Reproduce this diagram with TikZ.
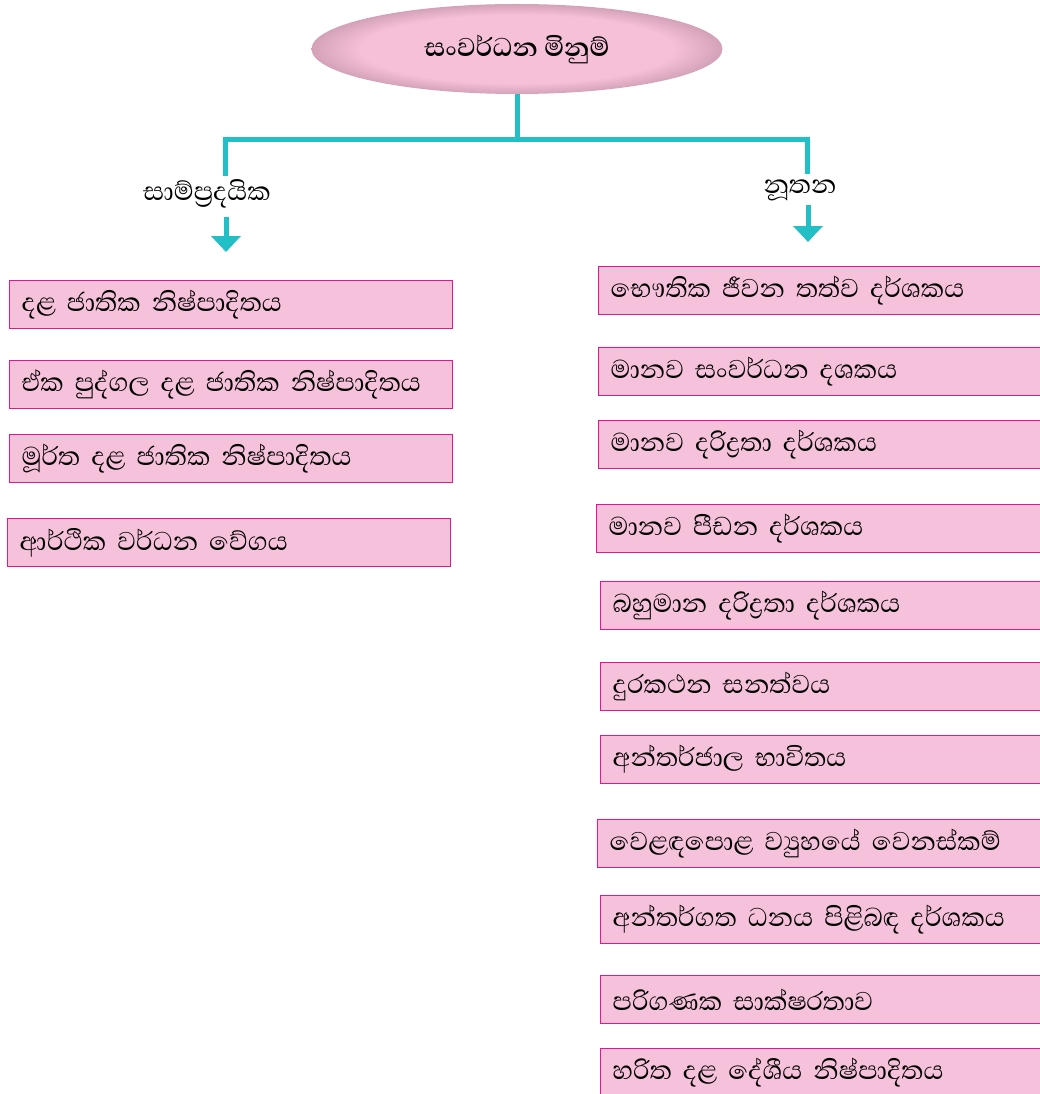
\documentclass[tikz,border=0pt]{standalone}
\usepackage{fontspec}
\newfontfamily\sinhala[Script=Sinhala]{Abhaya Libre}
\usetikzlibrary{shapes.geometric,arrows.meta}
\definecolor{boxpink}{HTML}{F6C1DA}
\definecolor{boxline}{HTML}{E8168C}
\definecolor{ellpink}{HTML}{F6C0D9}
\definecolor{ellrim}{HTML}{D3A2B8}
\definecolor{barcyan}{HTML}{22BFC6}
\pgfdeclareradialshading{rimshade}{\pgfpoint{0bp}{0bp}}{color(0bp)=(ellpink); color(19bp)=(ellpink); color(25bp)=(ellrim); color(50bp)=(ellrim)}

\begin{document}
\begin{tikzpicture}[x=1pt,y=-1pt,
  every node/.style={font=\sinhala\fontsize{33}{38}\selectfont},
  box/.style={draw=boxline, line width=1.3pt, fill=boxpink, shape=rectangle,
    anchor=north west, minimum height=48pt, inner xsep=12pt, inner ysep=0pt, align=left},
  lbox/.style={box, text width=419pt},
  rbox/.style={box, text width=426pt},
  bar/.style={draw=barcyan, line width=5pt},
  ]
  \useasboundingbox (0,0) rectangle (1039,1094);
  \node (top) [shape=ellipse, minimum width=411pt, minimum height=90pt, shading=rimshade,
    font=\sinhala\bfseries\fontsize{33}{38}\selectfont] at (517,49) {සංවර්ධන මිනුම්};
  \node (trad) at (207,194) {සාම්ප්‍රදයික};
  \node (modern) at (800,190) {නූතන};
  % left column
  \node (t1) [lbox] at (9,280) {දළ ජාතික නිෂ්පාදිතය};
  \node (t2) [lbox] at (9,360) {ඒක පුද්ගල දළ ජාතික නිෂ්පාදිතය};
  \node (t3) [lbox] at (9,434) {මූර්ත දළ ජාතික නිෂ්පාදිතය};
  \node (t4) [lbox] at (7,518) {ආර්ථික වර්ධන වේගය};
  % right column
  \node (m1) [rbox] at (598,266) {භෞතික ජීවන තත්ව දර්ශකය};
  \node (m2) [rbox] at (598,347) {මානව සංවර්ධන දශකය};
  \node (m3) [rbox] at (598,420) {මානව දරිද්‍රතා දර්ශකය};
  \node (m4) [rbox] at (596,504) {මානව පීඩන දර්ශකය};
  \node (m5) [rbox] at (600,581) {බහුමාන දරිද්‍රතා දර්ශකය};
  \node (m6) [rbox] at (600,662) {දුරකථන සනත්වය};
  \node (m7) [rbox] at (600,735) {අන්තර්ජාල භාවිතය};
  \node (m8) [rbox] at (597,819) {වෙළඳපොළ ව්‍යුහයේ වෙනස්කම්};
  \node (m9) [rbox] at (600,895) {අන්තර්ගත ධනය පිළිබඳ දර්ශකය};
  \node (m10) [rbox] at (600,975) {පරිගණක සාක්ෂරතාව};
  \node (m11) [rbox] at (600,1048) {හරිත දළ දේශීය නිෂ්පාදිතය};
  % connectors
  \coordinate (split) at (top.south |- 0,140);
  \coordinate (tradin) at (225,176);
  \coordinate (modin) at (807,174);
  \coordinate (tradout) at (226,217);
  \coordinate (tradend) at (226,252);
  \coordinate (modout) at (808,205);
  \coordinate (modend) at (808,242);
  \draw[bar] (top.south) -- (split);
  \draw[bar] (tradin) |- (split) -| (modin);
  \draw[bar, -{Triangle[width=29pt,length=16pt]}] (tradout) -- (tradend);
  \draw[bar, -{Triangle[width=29pt,length=16pt]}] (modout) -- (modend);
\end{tikzpicture}
\end{document}
